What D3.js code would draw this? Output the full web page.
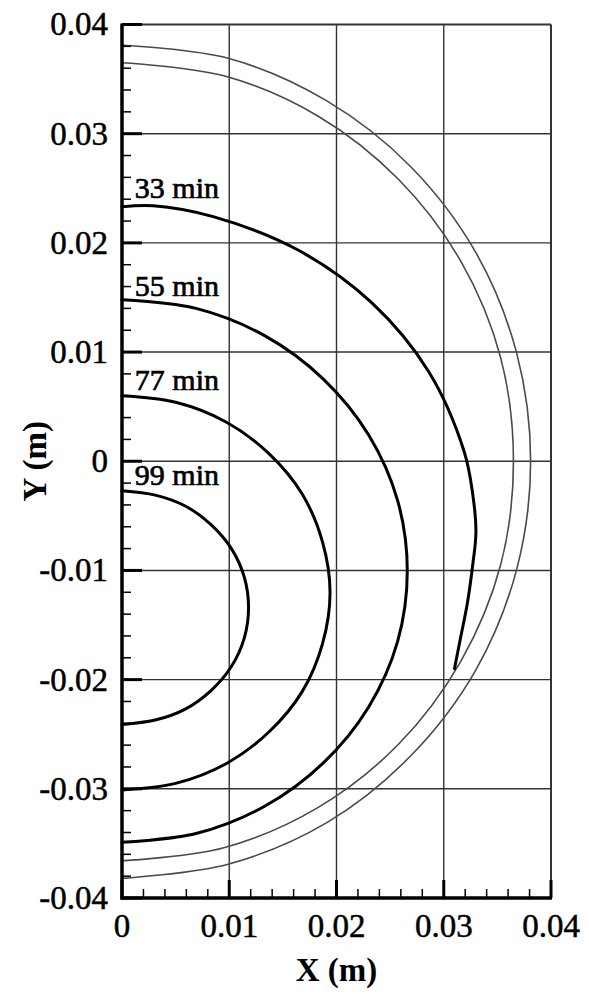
<!DOCTYPE html>
<html>
<head>
<meta charset="utf-8">
<script src="https://cdn.jsdelivr.net/npm/d3@7"></script>
<style>
  html, body { margin: 0; padding: 0; background: #fff; }
  svg { display: block; }
  text { font-family: "Liberation Serif", "Times New Roman", serif; fill: #000; }
</style>
</head>
<body>
<svg id="chart" width="589" height="994"></svg>
<script>
// Axis ticks and labels
const xTicks = [0, 0.01, 0.02, 0.03, 0.04];
const xTickLabels = ["0", "0.01", "0.02", "0.03", "0.04"];
const yTicks = [0.04, 0.03, 0.02, 0.01, 0, -0.01, -0.02, -0.03, -0.04];
const yTickLabels = ["0.04", "0.03", "0.02", "0.01", "0", "-0.01", "-0.02", "-0.03", "-0.04"];
const xTitle = "X (m)";
const yTitle = "Y (m)";

// Front positions [x, y] in metres (thick black curves)
const front33 = [[0, 0.0233], [0.0029, 0.0234], [0.0085, 0.0224], [0.0165, 0.0193], [0.0233, 0.0145],
  [0.0286, 0.0082], [0.0319, 0.0009], [0.0327, -0.0030], [0.0330, -0.0065], [0.0327, -0.0095],
  [0.0322, -0.0130], [0.0315, -0.0165], [0.0310, -0.0190]];
const front55 = [[0, 0.0148], [0.0069, 0.0140], [0.0133, 0.0115], [0.0188, 0.0075], [0.0230, 0.0024],
  [0.0257, -0.0036], [0.0266, -0.0100], [0.0257, -0.0165], [0.0230, -0.0225], [0.0188, -0.0276],
  [0.0133, -0.0316], [0.0069, -0.0341], [0, -0.0349]];
const front77 = [[0, 0.0060], [0.0050, 0.0054], [0.0097, 0.0036], [0.0137, 0.0007], [0.0168, -0.0030],
  [0.0187, -0.0074], [0.0194, -0.0120], [0.0187, -0.0167], [0.0168, -0.0211], [0.0137, -0.0248],
  [0.0097, -0.0277], [0.0050, -0.0295], [0, -0.0301]];
const front99 = [[0, -0.0027], [0.0031, -0.0031], [0.0059, -0.0041], [0.0083, -0.0058], [0.0102, -0.0080],
  [0.0114, -0.0106], [0.0118, -0.0134], [0.0114, -0.0162], [0.0102, -0.0188], [0.0083, -0.0210],
  [0.0059, -0.0227], [0.0031, -0.0237], [0, -0.0241]];

// Outer thin grey curves
const outerA = [[0, 0.0381], [0.0099, 0.0369], [0.0191, 0.0330], [0.0269, 0.0270], [0.0330, 0.0191],
  [0.0368, 0.0099], [0.0381, 0], [0.0368, -0.0099], [0.0330, -0.0191], [0.0269, -0.0270],
  [0.0191, -0.0331], [0.0099, -0.0369], [0, -0.0382]];
const outerB = [[0, 0.0365], [0.0095, 0.0353], [0.0183, 0.0316], [0.0258, 0.0258], [0.0316, 0.0183],
  [0.0353, 0.0095], [0.0365, 0], [0.0353, -0.0095], [0.0316, -0.0183], [0.0258, -0.0259],
  [0.0183, -0.0317], [0.0095, -0.0354], [0, -0.0366]];

const fronts = [front33, front55, front77, front99];
const frontLabels = ["33 min", "55 min", "77 min", "99 min"];
const labelAnchors = [[0.0012, 0.0241], [0.0012, 0.0151], [0.0012, 0.0065], [0.0012, -0.0022]];

const svg = d3.select("#chart");
const x = d3.scaleLinear().domain([0, 0.04]).range([122, 551]);
const y = d3.scaleLinear().domain([-0.04, 0.04]).range([898, 24.5]);

// grid lines
const grid = svg.append("g");
grid.selectAll("line.gx").data(xTicks.slice(1, -1)).enter().append("line")
  .attr("x1", d => x(d)).attr("x2", d => x(d)).attr("y1", y(0.04)).attr("y2", y(-0.04))
  .attr("stroke", "#333").attr("stroke-width", 1.4);
grid.selectAll("line.gy").data(yTicks.slice(1, -1)).enter().append("line")
  .attr("y1", d => y(d)).attr("y2", d => y(d)).attr("x1", x(0)).attr("x2", x(0.04))
  .attr("stroke", "#333").attr("stroke-width", 1.4);

// frame: thin top/right, heavy left/bottom
svg.append("line").attr("x1", x(0)).attr("x2", x(0.04)).attr("y1", y(0.04)).attr("y2", y(0.04))
  .attr("stroke", "#333").attr("stroke-width", 2);
svg.append("line").attr("x1", x(0.04)).attr("x2", x(0.04)).attr("y1", y(0.04)).attr("y2", y(-0.04))
  .attr("stroke", "#333").attr("stroke-width", 2);

const line = d3.line().x(d => x(d[0])).y(d => y(d[1])).curve(d3.curveCatmullRom.alpha(0.5));

svg.selectAll("path.outer").data([outerA, outerB]).enter().append("path")
  .attr("d", line).attr("fill", "none").attr("stroke", "#4a4a4a").attr("stroke-width", 1.6);

svg.selectAll("path.front").data(fronts).enter().append("path")
  .attr("d", line).attr("fill", "none").attr("stroke", "#000").attr("stroke-width", 3)
  .attr("stroke-linejoin", "round").attr("stroke-linecap", "round");

// minor and major ticks, pointing inward
const minor = d3.range(-0.04, 0.04001, 0.002).map(v => +v.toFixed(3));
const minorX = d3.range(0, 0.04001, 0.002).map(v => +v.toFixed(3));
const ticks = svg.append("g").attr("stroke", "#000");
ticks.selectAll("line.my").data(minor).enter().append("line")
  .attr("x1", x(0)).attr("x2", x(0) + 9).attr("y1", d => y(d)).attr("y2", d => y(d)).attr("stroke-width", 1.5);
ticks.selectAll("line.My").data(yTicks).enter().append("line")
  .attr("x1", x(0)).attr("x2", x(0) + 20).attr("y1", d => y(d)).attr("y2", d => y(d)).attr("stroke-width", 3);
ticks.selectAll("line.mx").data(minorX).enter().append("line")
  .attr("y1", y(-0.04)).attr("y2", y(-0.04) - 9).attr("x1", d => x(d)).attr("x2", d => x(d)).attr("stroke-width", 1.5);
ticks.selectAll("line.Mx").data(xTicks).enter().append("line")
  .attr("y1", y(-0.04)).attr("y2", y(-0.04) - 18).attr("x1", d => x(d)).attr("x2", d => x(d)).attr("stroke-width", 3);

// heavy axis lines
svg.append("line").attr("x1", x(0)).attr("x2", x(0)).attr("y1", y(0.04) - 1).attr("y2", y(-0.04) + 1.5)
  .attr("stroke", "#000").attr("stroke-width", 3.5);
svg.append("line").attr("x1", x(0) - 1.5).attr("x2", x(0.04) + 1).attr("y1", y(-0.04)).attr("y2", y(-0.04))
  .attr("stroke", "#000").attr("stroke-width", 3.5);

// tick labels
svg.selectAll("text.yl").data(yTicks).enter().append("text")
  .attr("x", 108).attr("y", d => y(d)).attr("dy", "0.33em")
  .attr("text-anchor", "end").attr("font-size", 33)
  .attr("stroke", "#000").attr("stroke-width", 0.5)
  .text((d, i) => yTickLabels[i]);
svg.selectAll("text.xl").data(xTicks).enter().append("text")
  .attr("x", d => x(d)).attr("y", 937)
  .attr("text-anchor", "middle").attr("font-size", 33)
  .attr("stroke", "#000").attr("stroke-width", 0.5)
  .text((d, i) => xTickLabels[i]);

// axis titles
svg.append("text").attr("x", x(0.02)).attr("y", 981).attr("text-anchor", "middle")
  .attr("font-size", 33).attr("font-weight", "bold").text(xTitle);
svg.append("text").attr("transform", `translate(46,${y(0)}) rotate(-90)`).attr("text-anchor", "middle")
  .attr("font-size", 33).attr("font-weight", "bold").text(yTitle);

// front time labels
svg.selectAll("text.fl").data(frontLabels).enter().append("text")
  .attr("x", (d, i) => x(labelAnchors[i][0])).attr("y", (d, i) => y(labelAnchors[i][1]))
  .attr("font-size", 30).attr("stroke", "#000").attr("stroke-width", 0.7)
  .text(d => d);
</script>
</body>
</html>
